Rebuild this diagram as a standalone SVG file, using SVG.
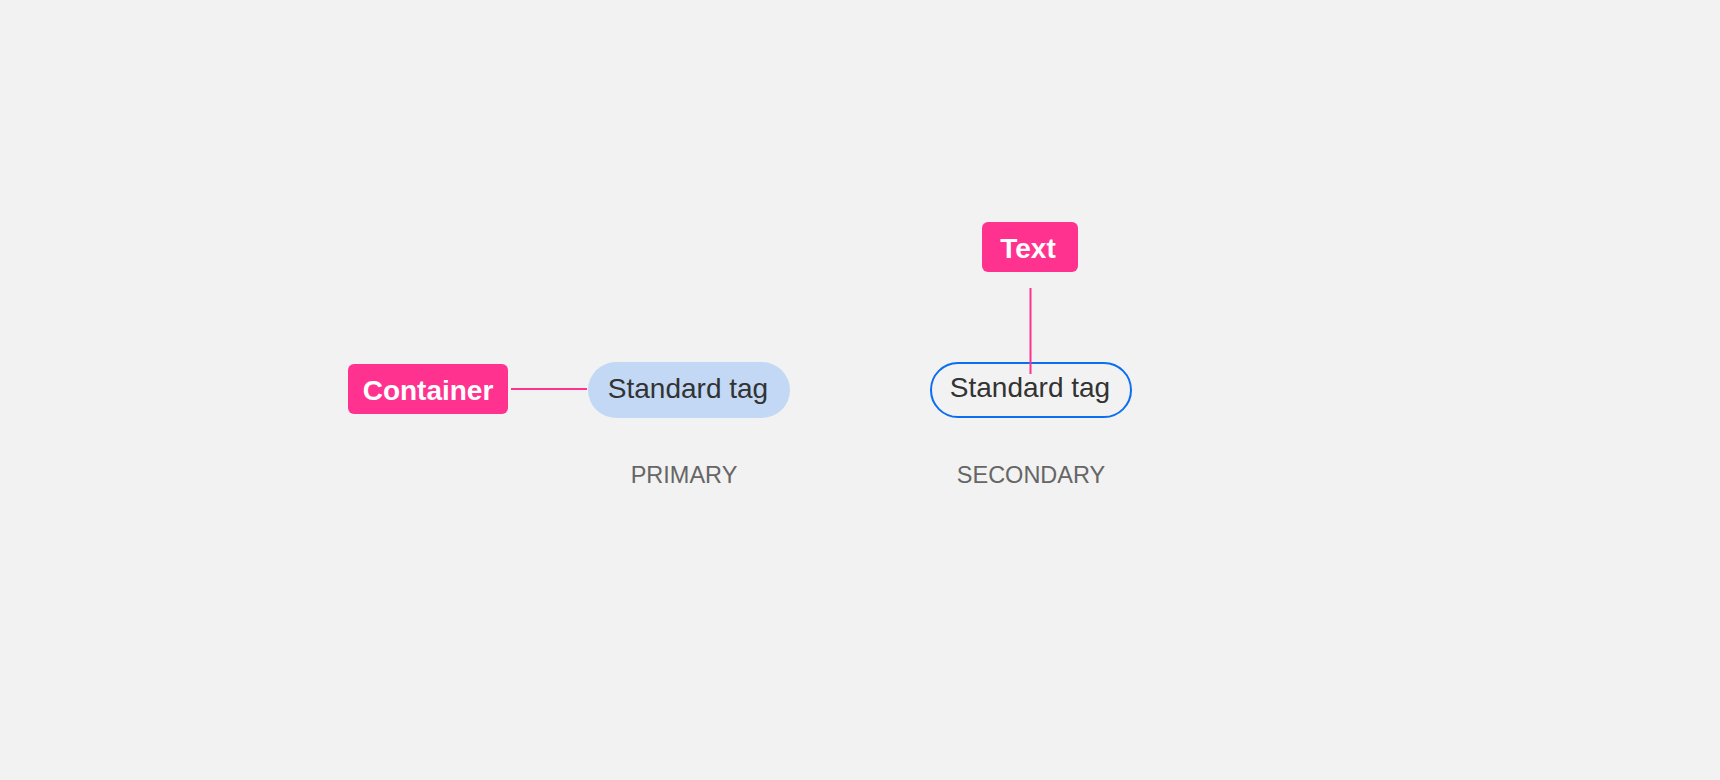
<svg xmlns="http://www.w3.org/2000/svg" width="1720" height="780" viewBox="0 0 1720 780">
<style>
.bg{fill:#f2f2f2}
.callout{fill:#ff338f}
.ctext{font-family:"Liberation Sans",Arial,sans-serif;font-weight:bold;font-size:28px;fill:#ffffff;text-anchor:middle}
.tagtext{font-family:"Liberation Sans",Arial,sans-serif;font-size:28px;fill:#333333;text-anchor:middle}
.label{font-family:"Liberation Sans",Arial,sans-serif;font-size:23.5px;fill:#666666;text-anchor:middle}
.conn{stroke:#ff338f;stroke-width:2;fill:none}
</style>
<rect class="bg" x="0" y="0" width="1720" height="780"/>
<g id="primary-tag">
<rect x="588" y="362" width="202" height="56" rx="28" fill="#c2d8f5"/>
<text class="tagtext" x="688" y="398">Standard tag</text>
</g>
<g id="secondary-tag">
<rect x="931" y="363" width="200" height="54" rx="27" fill="#f2f2f2" stroke="#0a6ef0" stroke-width="2"/>
<text class="tagtext" x="1030" y="397">Standard tag</text>
</g>
<g id="connectors">
<line class="conn" x1="511" y1="389" x2="587" y2="389"/>
<line class="conn" x1="1030.5" y1="288" x2="1030.5" y2="374"/>
</g>
<g id="container-callout">
<rect class="callout" x="348" y="364" width="160" height="50" rx="6"/>
<text class="ctext" x="428" y="400">Container</text>
</g>
<g id="text-callout">
<rect class="callout" x="982" y="222" width="96" height="50" rx="6"/>
<text class="ctext" x="1028" y="258">Text</text>
</g>
<g id="label-primary">
<text class="label" x="684" y="482.5">PRIMARY</text>
</g>
<g id="label-secondary">
<text class="label" x="1031" y="482.5">SECONDARY</text>
</g>
</svg>
